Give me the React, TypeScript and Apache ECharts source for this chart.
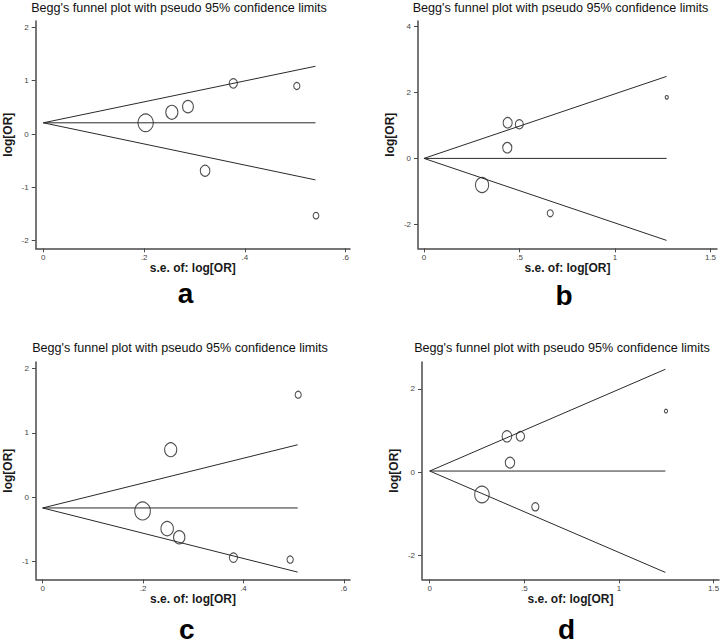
import React, { useEffect, useRef } from "react";
import * as echarts from "echarts";

const FONT = '"Liberation Sans", Arial, Helvetica, sans-serif';

const titleText = "Begg's funnel plot with pseudo 95% confidence limits";
const xAxisName = "s.e. of: log[OR]";
const yAxisName = "log[OR]";
const panelLetters = ["a", "b", "c", "d"];

// Panel a
const seA = [0.203, 0.255, 0.287, 0.377, 0.503, 0.321, 0.541];
const logOrA = [0.21, 0.407, 0.512, 0.95, 0.9, -0.688, -1.53];
const upperA = [[0, 0.21], [0.54, 1.27]];
const lowerA = [[0, 0.21], [0.54, -0.86]];
const pooledA = [[0, 0.21], [0.54, 0.21]];
const xTicksA = [0, 0.2, 0.4, 0.6];
const yTicksA = [-2, -1, 0, 1, 2];

// Panel b
const seB = [0.438, 0.499, 0.436, 0.304, 0.661, 1.271];
const logOrB = [1.084, 1.036, 0.325, -0.808, -1.667, 1.855];
const upperB = [[0, 0], [1.27, 2.49]];
const lowerB = [[0, 0], [1.27, -2.49]];
const pooledB = [[0, 0], [1.27, 0]];
const xTicksB = [0, 0.5, 1, 1.5];
const yTicksB = [-2, 0, 2, 4];

// Panel c
const seC = [0.509, 0.255, 0.199, 0.248, 0.272, 0.38, 0.493];
const logOrC = [1.595, 0.738, -0.217, -0.492, -0.626, -0.944, -0.975];
const upperC = [[0, -0.17], [0.508, 0.815]];
const lowerC = [[0, -0.17], [0.508, -1.17]];
const pooledC = [[0, -0.17], [0.508, -0.17]];
const xTicksC = [0, 0.2, 0.4, 0.6];
const yTicksC = [-1, 0, 1, 2];

// Panel d
const seD = [0.408, 0.479, 0.424, 0.276, 0.558, 1.248];
const logOrD = [0.863, 0.863, 0.232, -0.533, -0.827, 1.468];
const upperD = [[0, 0.03], [1.245, 2.47]];
const lowerD = [[0, 0.03], [1.245, -2.4]];
const pooledD = [[0, 0.03], [1.245, 0.03]];
const xTicksD = [0, 0.5, 1, 1.5];
const yTicksD = [-2, 0, 2];

const panels = [
  {
    se: seA, y: logOrA, upper: upperA, lower: lowerA, pooled: pooledA,
    xTicks: xTicksA, yTicks: yTicksA,
    grid: { left: 35.7, top: 21, width: 314.3, height: 227.3 },
    xRange: [-0.0151, 0.6085], yRange: [-2.142, 2.118], k: 3.1,
    title: [179, 7.5], letter: [185.5, 293.5],
  },
  {
    se: seB, y: logOrB, upper: upperB, lower: lowerB, pooled: pooledB,
    xTicks: xTicksB, yTicks: yTicksB,
    grid: { left: 418, top: 21, width: 299, height: 227.3 },
    xRange: [-0.0314, 1.534], yRange: [-2.73, 4.172], k: 4.0,
    title: [560.5, 7.5], letter: [564, 295],
  },
  {
    se: seC, y: logOrC, upper: upperC, lower: lowerC, pooled: pooledC,
    xTicks: xTicksC, yTicks: yTicksC,
    grid: { left: 36, top: 362, width: 314, height: 217.3 },
    xRange: [-0.0133, 0.6122], yRange: [-1.282, 2.105], k: 3.1,
    title: [180, 348], letter: [186.7, 629.5],
  },
  {
    se: seD, y: logOrD, upper: upperD, lower: lowerD, pooled: pooledD,
    xTicks: xTicksD, yTicks: yTicksD,
    grid: { left: 422, top: 362, width: 297, height: 217.3 },
    xRange: [-0.0407, 1.5283], yRange: [-2.565, 2.644], k: 4.0,
    title: [562, 348], letter: [566.5, 629.5],
  },
];

const fmt = (v: number) => {
  let s = String(Math.round(v * 1000) / 1000);
  s = s.replace(/^0\./, ".").replace(/^-0\./, "-.");
  return s;
};

export default function App() {
  const ref = useRef<HTMLDivElement>(null);
  useEffect(() => {
    if (!ref.current) return;
    const chart = echarts.init(ref.current, null, { renderer: "svg" });
    const axisColor = "#4a4a4a";
    const grids: any[] = [];
    const xAxes: any[] = [];
    const yAxes: any[] = [];
    const series: any[] = [];
    const graphics: any[] = [];
    panels.forEach((p, i) => {
      grids.push({ ...p.grid, containLabel: false });
      xAxes.push({
        type: "value",
        gridIndex: i,
        min: p.xRange[0],
        max: p.xRange[1],
        name: xAxisName,
        nameLocation: "middle",
        nameGap: 13,
        nameTextStyle: { fontFamily: FONT, fontSize: 12, fontWeight: "bold", color: "#1a1a1a" },
        axisLine: { show: true, onZero: false, lineStyle: { color: axisColor, width: 1.5 } },
        axisTick: { show: true, length: 4, customValues: p.xTicks, lineStyle: { color: axisColor, width: 1 } },
        axisLabel: {
          show: true,
          customValues: p.xTicks,
          formatter: (v: number) => fmt(v),
          fontFamily: FONT,
          fontSize: 8,
          color: "#444",
          margin: 5,
        },
        splitLine: { show: false },
      });
      yAxes.push({
        type: "value",
        gridIndex: i,
        min: p.yRange[0],
        max: p.yRange[1],
        name: yAxisName,
        nameLocation: "middle",
        nameGap: 22,
        nameTextStyle: { fontFamily: FONT, fontSize: 12, fontWeight: "bold", color: "#1a1a1a" },
        axisLine: { show: true, onZero: false, lineStyle: { color: axisColor, width: 1.5 } },
        axisTick: { show: true, length: 4, customValues: p.yTicks, lineStyle: { color: axisColor, width: 1 } },
        axisLabel: {
          show: true,
          customValues: p.yTicks,
          formatter: (v: number) => fmt(v),
          fontFamily: FONT,
          fontSize: 8,
          color: "#444",
          margin: 7,
        },
        splitLine: { show: false },
      });
      const lineStyle = { color: "#2a2a2a", width: 1 };
      [p.upper, p.lower, p.pooled].forEach((d) => {
        series.push({
          type: "line",
          xAxisIndex: i,
          yAxisIndex: i,
          data: d,
          symbol: "none",
          lineStyle,
          silent: true,
        });
      });
      const k = p.k;
      series.push({
        type: "scatter",
        xAxisIndex: i,
        yAxisIndex: i,
        data: p.se.map((s, j) => [s, p.y[j]]),
        symbol: "circle",
        symbolSize: (val: number[]) => [k / val[0], (1.15 * k) / val[0]],
        itemStyle: { color: "rgba(255,255,255,0)", borderColor: "#222", borderWidth: 1.1 },
        silent: true,
      });
      graphics.push({
        type: "text",
        x: p.title[0],
        y: p.title[1],
        style: {
          text: titleText,
          fontFamily: FONT,
          fontSize: 12.6,
          fill: "#111",
          align: "center",
          verticalAlign: "middle",
        },
      });
      graphics.push({
        type: "text",
        x: p.letter[0],
        y: p.letter[1],
        style: {
          text: panelLetters[i],
          fontFamily: FONT,
          fontSize: 28,
          fontWeight: "bold",
          fill: "#000",
          align: "center",
          verticalAlign: "middle",
        },
      });
    });
    chart.setOption({
      animation: false,
      backgroundColor: "#ffffff",
      grid: grids,
      xAxis: xAxes,
      yAxis: yAxes,
      series,
      graphic: graphics,
    });
    return () => chart.dispose();
  }, []);
  return (
    <div
      ref={ref}
      style={{ position: "absolute", left: 0, top: 0, width: 724, height: 644, background: "#fff" }}
    />
  );
}
